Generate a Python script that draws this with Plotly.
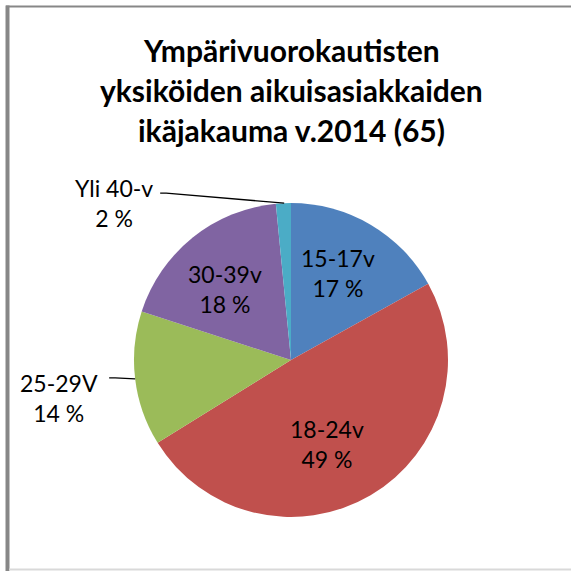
import math
import plotly.graph_objects as go

labels = ["15-17v", "18-24v", "25-29V", "30-39v", "Yli 40-v"]
counts = [11, 32, 9, 12, 1]
pct_text = ["17 %", "49 %", "14 %", "18 %", "2 %"]
colors = ["#4F81BD", "#C0504D", "#9BBB59", "#8064A2", "#4BACC6"]
title_lines = ["Ympärivuorokautisten", "yksiköiden aikuisasiakkaiden", "ikäjakauma v.2014 (65)"]

W = H = 571
cx, cy, r = 291, 360, 157  # pie centre / radius in pixels (from top)
dom_x = [(cx - r) / W, (cx + r) / W]
dom_y = [(H - cy - r) / H, (H - cy + r) / H]

fig = go.Figure(go.Pie(
    labels=labels, values=counts, sort=False, direction="clockwise", rotation=0,
    marker=dict(colors=colors, line=dict(width=0)),
    textinfo="none",
    domain=dict(x=dom_x, y=dom_y), showlegend=False, hoverinfo="label+percent",
))

def px(x, y):
    return x / W, (H - y) / H

annotations = []
for i, line in enumerate(title_lines):
    annotations.append(dict(text=f"<b>{line}</b>", x=0.51, y=(H - 50 - 40 * i) / H,
                            xref="paper", yref="paper", showarrow=False, yanchor="middle",
                            font=dict(family="Lato", size=30, color="black")))

# label placement style: inside -> (radius fraction, angle tweak deg); outside -> leader line
style = {
    0: dict(kind="in", rf=0.63, da=-2),
    1: dict(kind="in", rf=0.58, da=7),
    2: dict(kind="out", af=0.5, dx=-26, dy=-1, gap=9, ty=20),
    3: dict(kind="in", rf=0.62, da=-4),
    4: dict(kind="out", af=0.55, dx=-124, dy=-10, gap=5, ty=10),
}

shapes = []
total = sum(counts)
cum = 0
font = dict(family="Lato", size=23, color="black")
for i, v in enumerate(counts):
    s = style[i]
    start = cum
    cum += v
    txt = f"{labels[i]}<br>{pct_text[i]}"
    if s["kind"] == "in":
        ang = math.radians((start + v / 2) / total * 360 + s["da"])
        tx = cx + s["rf"] * r * math.sin(ang)
        ty = cy - s["rf"] * r * math.cos(ang)
        x, y = px(tx, ty)
        annotations.append(dict(text=txt, x=x, y=y, xref="paper", yref="paper",
                                showarrow=False, align="center", xanchor="center", yanchor="middle",
                                font=font))
    else:
        ang = (start + v * s["af"]) / total * 2 * math.pi
        ex = cx + r * math.sin(ang)
        ey = cy - r * math.cos(ang)
        kx, ky = ex + s["dx"], ey + s["dy"]
        p0, p1, p2 = px(ex, ey), px(kx + 6, ky), px(kx, ky)
        shapes.append(dict(type="path", xref="paper", yref="paper",
                           path=f"M {p0[0]},{p0[1]} L {p1[0]},{p1[1]} L {p2[0]},{p2[1]}",
                           line=dict(color="black", width=1.3)))
        x, y = px(kx - s["gap"], ky + s["ty"])
        annotations.append(dict(text=txt, x=x, y=y, xref="paper", yref="paper",
                                xanchor="right", yanchor="middle", showarrow=False, align="center",
                                font=font))

# chart frame
shapes.append(dict(type="line", xref="paper", yref="paper", x0=6 / W, x1=1, y0=(H - 6.5) / H, y1=(H - 6.5) / H,
                   line=dict(color="#878787", width=2)))
shapes.append(dict(type="line", xref="paper", yref="paper", x0=7.5 / W, x1=7.5 / W, y0=0, y1=(H - 5.5) / H,
                   line=dict(color="#878787", width=4)))
shapes.append(dict(type="line", xref="paper", yref="paper", x0=9 / W, x1=1, y0=1.5 / H, y1=1.5 / H,
                   line=dict(color="#d9d9d9", width=2)))

fig.update_layout(width=W, height=H, margin=dict(l=0, r=0, t=0, b=0),
                  paper_bgcolor="white", plot_bgcolor="white",
                  annotations=annotations, shapes=shapes)
fig.write_html("out.html", config={"displayModeBar": False},
               post_script="document.body.style.margin='0';document.body.style.padding='0';")
